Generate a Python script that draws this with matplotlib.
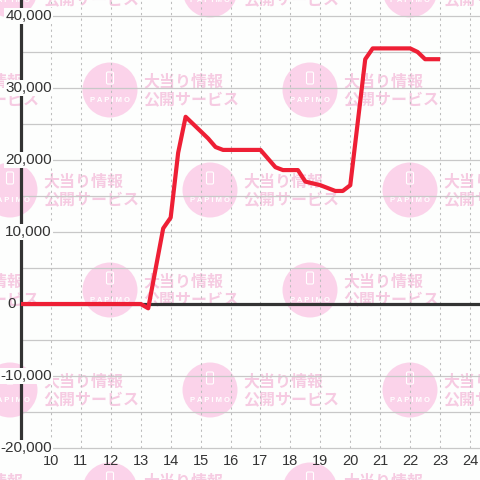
import matplotlib
matplotlib.use("Agg")
import matplotlib.pyplot as plt
from matplotlib.patches import Circle, FancyBboxPatch
from matplotlib.transforms import blended_transform_factory

# data
hours = [9, 13.0, 13.25, 13.75, 14.0, 14.25, 14.5, 15.0, 15.25, 15.5, 15.75, 17.0,
         17.5, 17.75, 18.25, 18.5, 19.0, 19.25, 19.5, 19.75, 20.0, 20.5, 20.75,
         22.0, 22.25, 22.5, 23.0]
balance = [0, 0, -600, 10500, 12000, 21000, 26000, 24000, 23000, 21800, 21400, 21400,
           19000, 18600, 18600, 17000, 16500, 16100, 15700, 15700, 16500, 34000, 35500,
           35500, 35000, 34000, 34000]

x_ticks = list(range(10, 25))
y_ticks = [40000, 30000, 20000, 10000, 0, -10000, -20000]
y_labels = ['40,000', '30,000', '20,000', '10,000', '0', '-10,000', '-20,000']
y_grid = list(range(-20000, 40001, 5000))

plt.rcParams['lines.scale_dashes'] = False
W = 480.0

fig = plt.figure(figsize=(4.8, 4.8), dpi=100)
fig.patch.set_facecolor('#fdfefd')

# watermark tiles (figure pixel coords)
def px(x, y):
    return x / W, 1 - y / W

wm_font = ['Noto Sans CJK JP', 'DejaVu Sans']
for r, cy in enumerate([-10, 90, 190, 290, 390, 490]):
    cxs = [-190, 10, 210, 410] if r % 2 == 0 else [-90, 110, 310]
    for cx in cxs:
        fig.add_artist(Circle(px(cx, cy), 27.5 / W, transform=fig.transFigure,
                              facecolor='#fbd3ea', edgecolor='none', zorder=-5))
        fig.add_artist(FancyBboxPatch(px(cx - 3.5, cy - 6), 7 / W, 12 / W,
                                      boxstyle='round,pad=0,rounding_size=0.003',
                                      transform=fig.transFigure, facecolor='none',
                                      edgecolor='white', lw=0.8, zorder=-4))
        fig.text(*px(cx, cy + 10), 'P A P I M O', color='white', fontsize=5.5,
                 ha='center', va='center', family='Liberation Sans', weight='bold',
                 zorder=-4)
        fig.text(*px(cx + 33, cy - 9), '大当り情報', color='#f6cbe2', fontsize=11.5,
                 ha='left', va='center', family=wm_font, weight='bold', zorder=-4)
        fig.text(*px(cx + 33, cy + 10), '公開サービス', color='#f6cbe2', fontsize=11.5,
                 ha='left', va='center', family=wm_font, weight='bold', zorder=-4)

ax = fig.add_axes([21 / W, 32 / W, 459 / W, 448 / W])
ax.patch.set_visible(False)
ax.set_xlim(9, 24.334)
ax.set_ylim(-20000, 42222)
for s in ax.spines.values():
    s.set_visible(False)
ax.set_xticks([])
ax.set_yticks([])

for g in y_grid:
    ax.axhline(g, color='#c8c8c8', lw=0.9, zorder=1, clip_on=False)
for t in x_ticks:
    ax.axvline(t, color='#bdbdbd', lw=0.75, ls=(0, (1.6, 2.4)), zorder=1)

ax.axhline(0, color='#333333', lw=2.3, zorder=2)
ax.axvline(9, color='#333333', lw=2.3, zorder=2, clip_on=False)

ax.plot(hours, balance, color='#ee1f35', lw=3.0, solid_joinstyle='round',
        solid_capstyle='butt', zorder=3)

for v, lab in zip(y_ticks, y_labels):
    if lab == '0':
        ax.text(8.53, v, lab, ha='left', va='center', fontsize=11, color='#333333',
                family='Liberation Sans', zorder=4, clip_on=False)
    else:
        ax.text(10.03, v, lab, ha='right', va='center', fontsize=11, color='#333333',
                family='Liberation Sans', zorder=4, clip_on=False,
                bbox=dict(facecolor='#fdfefd', edgecolor='none', pad=0.8))

tr = blended_transform_factory(ax.transData, ax.transAxes)
for t in x_ticks:
    ax.text(t, -13 / 448, str(t), transform=tr, ha='center', va='center',
            fontsize=10.5, color='#333333', family='Liberation Sans', clip_on=False)

fig.savefig('out.png', dpi=100, facecolor=fig.get_facecolor())
